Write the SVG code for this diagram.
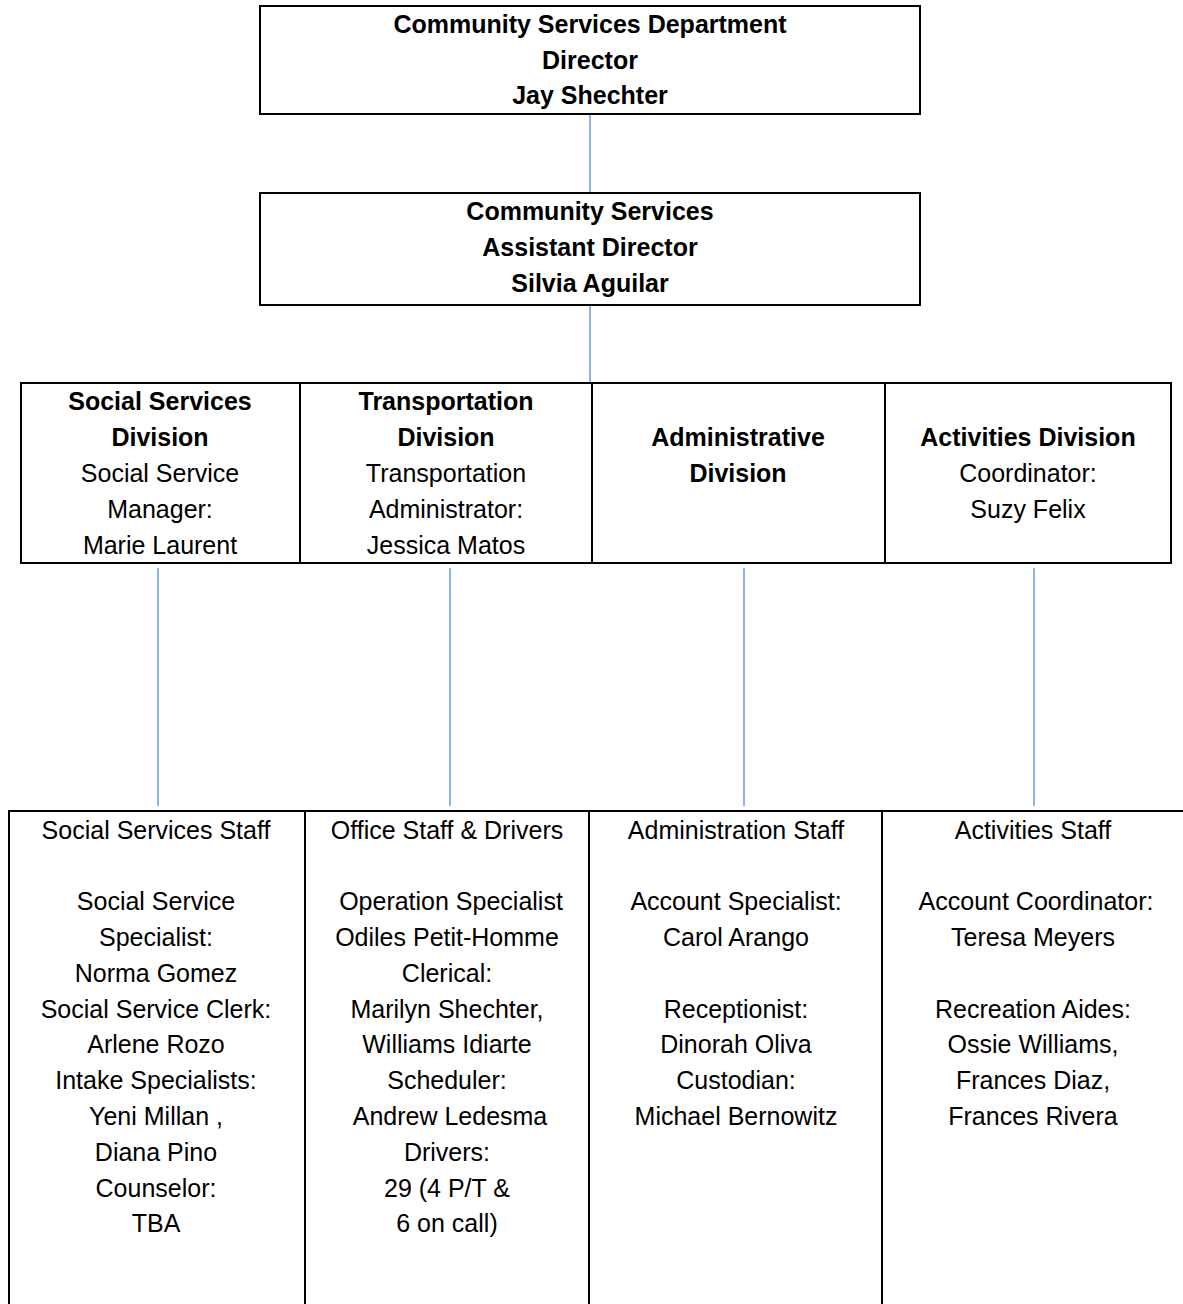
<svg xmlns="http://www.w3.org/2000/svg" width="1183" height="1304" viewBox="0 0 1183 1304">
<style>
.box{fill:#fff;stroke:#000;stroke-width:2}
.t{font-family:"Liberation Sans",Arial,sans-serif;font-size:25px;fill:#000;text-anchor:middle}
.b{font-weight:bold}
.c{stroke:#8eb4e3;stroke-width:2;fill:none}
</style>
<rect width="1183" height="1304" fill="#fff"/>
<g id="connectors">
<line class="c" x1="590" y1="114" x2="590" y2="193"/>
<line class="c" x1="590" y1="305" x2="590" y2="383"/>
<line class="c" x1="158" y1="568" x2="158" y2="806"/>
<line class="c" x1="450" y1="568" x2="450" y2="806"/>
<line class="c" x1="744" y1="568" x2="744" y2="806"/>
<line class="c" x1="1034" y1="568" x2="1034" y2="806"/>
</g>
<g id="director">
<rect class="box" x="260" y="6" width="660" height="108"/>
<text class="t b" x="590" y="33">Community Services Department</text>
<text class="t b" x="590" y="69">Director</text>
<text class="t b" x="590" y="104">Jay Shechter</text>
</g>
<g id="assistant-director">
<rect class="box" x="260" y="193" width="660" height="112"/>
<text class="t b" x="590" y="220">Community Services</text>
<text class="t b" x="590" y="256">Assistant Director</text>
<text class="t b" x="590" y="292">Silvia Aguilar</text>
</g>
<g id="social-services-division">
<rect class="box" x="21" y="383" width="279" height="180"/>
<text class="t b" x="160" y="410">Social Services</text>
<text class="t b" x="160" y="446">Division</text>
<text class="t" x="160" y="482">Social Service</text>
<text class="t" x="160" y="518">Manager:</text>
<text class="t" x="160" y="554">Marie Laurent</text>
</g>
<g id="transportation-division">
<rect class="box" x="300" y="383" width="292" height="180"/>
<text class="t b" x="446" y="410">Transportation</text>
<text class="t b" x="446" y="446">Division</text>
<text class="t" x="446" y="482">Transportation</text>
<text class="t" x="446" y="518">Administrator:</text>
<text class="t" x="446" y="554">Jessica Matos</text>
</g>
<g id="administrative-division">
<rect class="box" x="592" y="383" width="293" height="180"/>
<text class="t b" x="738" y="446">Administrative</text>
<text class="t b" x="738" y="482">Division</text>
</g>
<g id="activities-division">
<rect class="box" x="885" y="383" width="286" height="180"/>
<text class="t b" x="1028" y="446">Activities Division</text>
<text class="t" x="1028" y="482">Coordinator:</text>
<text class="t" x="1028" y="518">Suzy Felix</text>
</g>
<g id="social-services-staff">
<rect class="box" x="9" y="811" width="296" height="500"/>
<text class="t" x="156" y="839">Social Services Staff</text>
<text class="t" x="156" y="910">Social Service</text>
<text class="t" x="156" y="946">Specialist:</text>
<text class="t" x="156" y="982">Norma Gomez</text>
<text class="t" x="156" y="1018">Social Service Clerk:</text>
<text class="t" x="156" y="1053">Arlene Rozo</text>
<text class="t" x="156" y="1089">Intake Specialists:</text>
<text class="t" x="156" y="1125">Yeni Millan ,</text>
<text class="t" x="156" y="1161">Diana Pino</text>
<text class="t" x="156" y="1197">Counselor:</text>
<text class="t" x="156" y="1232">TBA</text>
</g>
<g id="office-staff-drivers">
<rect class="box" x="305" y="811" width="284" height="500"/>
<text class="t" x="447" y="839">Office Staff &amp; Drivers</text>
<text class="t" x="451" y="910">Operation Specialist</text>
<text class="t" x="447" y="946">Odiles Petit-Homme</text>
<text class="t" x="447" y="982">Clerical:</text>
<text class="t" x="447" y="1018">Marilyn Shechter,</text>
<text class="t" x="447" y="1053">Williams Idiarte</text>
<text class="t" x="447" y="1089">Scheduler:</text>
<text class="t" x="450" y="1125">Andrew Ledesma</text>
<text class="t" x="447" y="1161">Drivers:</text>
<text class="t" x="447" y="1197">29 (4 P/T &amp;</text>
<text class="t" x="447" y="1232">6 on call)</text>
</g>
<g id="administration-staff">
<rect class="box" x="589" y="811" width="293" height="500"/>
<text class="t" x="736" y="839">Administration Staff</text>
<text class="t" x="736" y="910">Account Specialist:</text>
<text class="t" x="736" y="946">Carol Arango</text>
<text class="t" x="736" y="1018">Receptionist:</text>
<text class="t" x="736" y="1053">Dinorah Oliva</text>
<text class="t" x="736" y="1089">Custodian:</text>
<text class="t" x="736" y="1125">Michael Bernowitz</text>
</g>
<g id="activities-staff">
<rect class="box" x="882" y="811" width="310" height="500"/>
<text class="t" x="1033" y="839">Activities Staff</text>
<text class="t" x="1036" y="910">Account Coordinator:</text>
<text class="t" x="1033" y="946">Teresa Meyers</text>
<text class="t" x="1033" y="1018">Recreation Aides:</text>
<text class="t" x="1033" y="1053">Ossie Williams,</text>
<text class="t" x="1033" y="1089">Frances Diaz,</text>
<text class="t" x="1033" y="1125">Frances Rivera</text>
</g>
</svg>
